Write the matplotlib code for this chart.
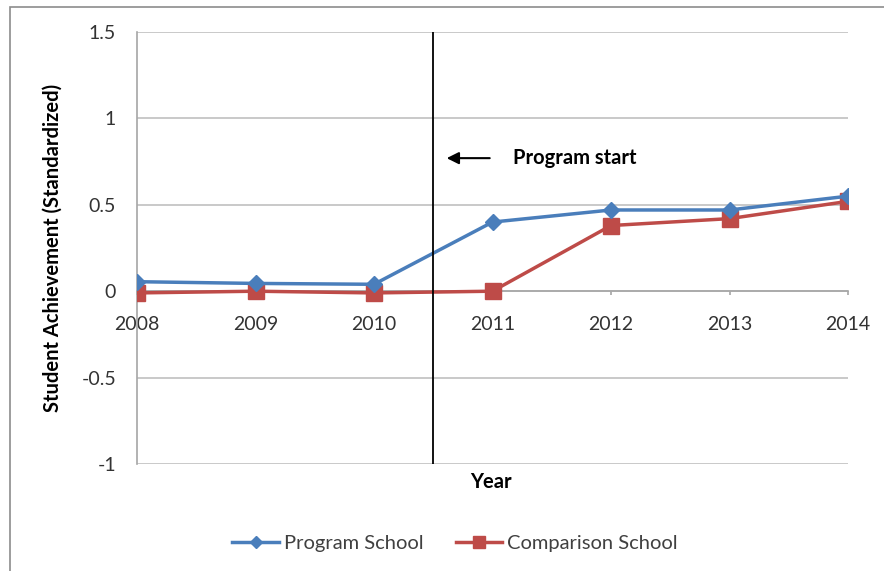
import matplotlib.pyplot as plt
from matplotlib.patches import Rectangle

years = ['2008', '2009', '2010', '2011', '2012', '2013', '2014']
program_school = [0.055, 0.045, 0.04, 0.40, 0.47, 0.47, 0.55]
comparison_school = [-0.01, 0.0, -0.01, 0.0, 0.38, 0.42, 0.52]
program_start = 2.5  # between 2010 and 2011

plt.rcParams['font.family'] = ['Lato', 'DejaVu Sans']

fig = plt.figure(figsize=(8.84, 5.71), dpi=100)
W, H = 884, 571
ax = fig.add_axes([137 / W, 1 - 464 / H, (848 - 137) / W, (464 - 32) / H])

# outer chart border (Excel style)
fig.add_artist(Rectangle((10 / W, -0.05), 1.2, 1 - 7 / H + 0.05,
                         transform=fig.transFigure, fill=False,
                         edgecolor='#8c8c8c', linewidth=1.2))

x = list(range(len(years)))

ax.plot(x, program_school, color='#4a7ebb', linewidth=2.5, marker='D',
        markersize=8.5, label='Program School', zorder=4)
ax.plot(x, comparison_school, color='#be4b48', linewidth=2.5, marker='s',
        markersize=11, label='Comparison School', zorder=3)

ax.axvline(program_start, color='black', linewidth=1.3, zorder=5)

ax.annotate('', xy=(2.59, 0.77), xytext=(3.0, 0.77),
            arrowprops=dict(arrowstyle='-|>', color='black', lw=1.5,
                            mutation_scale=18))
ax.text(3.17, 0.77, 'Program start', fontsize=14.5, fontweight='bold',
        va='center', ha='left')

ax.set_xlim(0, 6)
ax.set_ylim(-1, 1.5)
ax.set_yticks([-1, -0.5, 0, 0.5, 1, 1.5])
ax.set_yticklabels(['-1', '-0.5', '0', '0.5', '1', '1.5'])
ax.set_xticks(x)
ax.set_xticklabels(years)

ax.grid(axis='y', color='#c0c0c0', linewidth=1.2)
ax.set_axisbelow(True)

for s in ['top', 'right']:
    ax.spines[s].set_visible(False)
ax.spines['left'].set_color('#a6a6a6')
ax.spines['left'].set_linewidth(1.2)
ax.spines['bottom'].set_position(('data', 0))
ax.spines['bottom'].set_color('#a6a6a6')
ax.spines['bottom'].set_linewidth(1.2)

ax.tick_params(axis='y', length=0, pad=15, labelsize=14, labelcolor='#333333')
ax.tick_params(axis='x', direction='out', length=3, width=1.2,
               color='#a6a6a6', pad=15, labelsize=14, labelcolor='#333333')

ax.set_ylabel('Student Achievement (Standardized)', fontsize=14.5,
              fontweight='bold', va='center')
ax.yaxis.set_label_coords((53 - 137) / (848 - 137), 0.5)
fig.text(491 / W, 1 - 482 / H, 'Year', fontsize=14.5, fontweight='bold',
         ha='center', va='center')

fig.legend(loc='center', bbox_to_anchor=(455 / W, 1 - 543 / H), ncol=2,
           frameon=False, fontsize=14.5, handlelength=2.3, columnspacing=1.6,
           handletextpad=0.25, markerscale=0.75, labelcolor='#404040')

fig.savefig('out.png', dpi=100)
